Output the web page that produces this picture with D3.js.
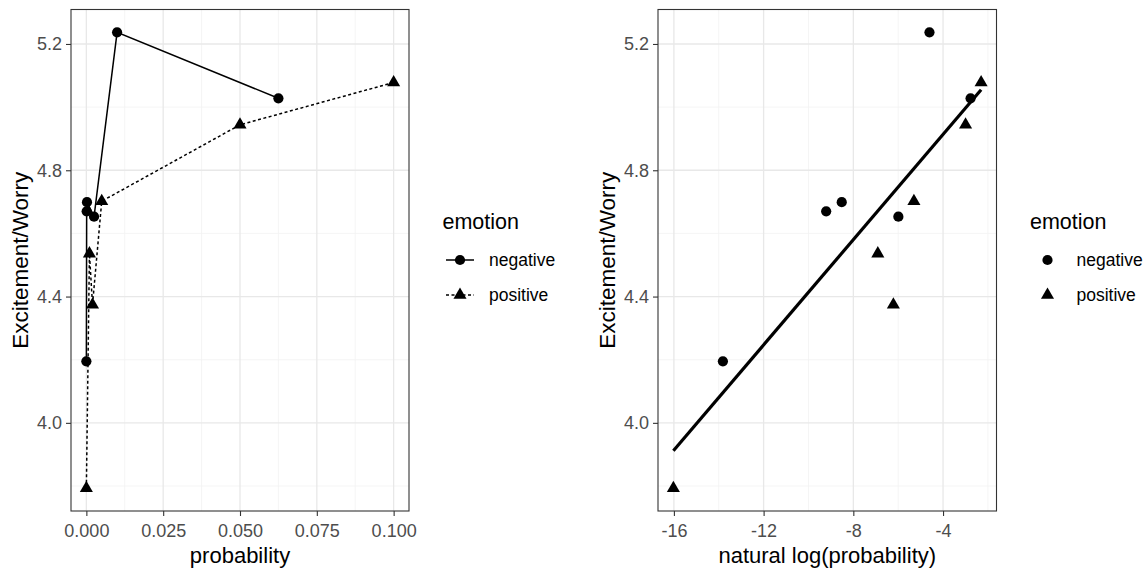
<!DOCTYPE html>
<html>
<head>
<meta charset="utf-8">
<script src="https://cdn.jsdelivr.net/npm/d3@7"></script>
<style>
body { margin: 0; background: #fff; }
text { font-family: "Liberation Sans", Arial, sans-serif; }
</style>
</head>
<body>
<svg id="chart" width="1148" height="570"></svg>
<script>
// values
const negProb = [0.000001, 0.0001, 0.0002, 0.0025, 0.01, 0.0625];
const negScore = [4.195, 4.67, 4.699, 4.653, 5.237, 5.028];
const posProb = [0.00000011, 0.001, 0.002, 0.005, 0.05, 0.1];
const posScore = [3.793, 4.536, 4.374, 4.702, 4.944, 5.078];
const emotions = ['negative', 'positive'];
const yTicks = [4.0, 4.4, 4.8, 5.2];
const yMinorTicks = [3.8, 4.2, 4.6, 5.0];
const xTicksLeft = [0, 0.025, 0.05, 0.075, 0.1];
const xTicksRight = [-16, -12, -8, -4];

const series = [
  { name: 'negative', shape: 'circle', dash: null,
    pts: negProb.map((p, i) => ({ p: p, lp: Math.log(p), y: negScore[i] })) },
  { name: 'positive', shape: 'triangle', dash: '3,2.5',
    pts: posProb.map((p, i) => ({ p: p, lp: Math.log(p), y: posScore[i] })) }
];
const allPts = series.flatMap(s => s.pts);

const svg = d3.select('#chart');
const pTop = 9.5, pBottom = 511;

function expand(ext) {
  const d = (ext[1] - ext[0]) * 0.05;
  return [ext[0] - d, ext[1] + d];
}

const y = d3.scaleLinear()
  .domain(expand(d3.extent(allPts, d => d.y)))
  .range([pBottom, pTop]);

const circleSym = d3.symbol().type(d3.symbolCircle).size(82);
const triSym = d3.symbol().type(d3.symbolTriangle).size(74);
function sym(shape) { return shape === 'circle' ? circleSym() : triSym(); }

function panel(left, right, xDomain, xTicks, fmt, xTitle) {
  const x = d3.scaleLinear().domain(expand(xDomain)).range([left, right]);
  const g = svg.append('g');

  // minor grid
  const step = xTicks[1] - xTicks[0];
  const xMinor = [];
  for (let v = xTicks[0] - step / 2; v <= xTicks[xTicks.length - 1] + step / 2 + 1e-9; v += step) xMinor.push(v);
  g.selectAll('.xm').data(xMinor.filter(v => x(v) > left && x(v) < right)).join('line')
    .attr('x1', d => x(d)).attr('x2', d => x(d)).attr('y1', pTop).attr('y2', pBottom)
    .attr('stroke', '#f3f3f3').attr('stroke-width', 0.8);
  g.selectAll('.ym').data(yMinorTicks).join('line')
    .attr('y1', d => y(d)).attr('y2', d => y(d)).attr('x1', left).attr('x2', right)
    .attr('stroke', '#f3f3f3').attr('stroke-width', 0.8);
  // major grid
  g.selectAll('.xg').data(xTicks).join('line')
    .attr('x1', d => x(d)).attr('x2', d => x(d)).attr('y1', pTop).attr('y2', pBottom)
    .attr('stroke', '#e8e8e8').attr('stroke-width', 1.3);
  g.selectAll('.yg').data(yTicks).join('line')
    .attr('y1', d => y(d)).attr('y2', d => y(d)).attr('x1', left).attr('x2', right)
    .attr('stroke', '#e8e8e8').attr('stroke-width', 1.3);

  // axes
  const ax = g.append('g').attr('transform', 'translate(0,' + pBottom + ')')
    .call(d3.axisBottom(x).tickValues(xTicks).tickFormat(fmt).tickSize(5).tickPadding(3).tickSizeOuter(0));
  const ay = g.append('g').attr('transform', 'translate(' + left + ',0)')
    .call(d3.axisLeft(y).tickValues(yTicks).tickFormat(d3.format('.1f')).tickSize(5).tickPadding(4).tickSizeOuter(0));
  [ax, ay].forEach(a => {
    a.select('.domain').remove();
    a.selectAll('line').attr('stroke', '#333').attr('stroke-width', 1.1);
    a.selectAll('text').attr('fill', '#4d4d4d').style('font-size', '18px')
      .style('font-family', '"Liberation Sans", Arial, sans-serif');
  });
  ax.selectAll('text').attr('dy', '0.98em');

  g.append('rect').attr('x', left).attr('y', pTop)
    .attr('width', right - left).attr('height', pBottom - pTop)
    .attr('fill', 'none').attr('stroke', '#333').attr('stroke-width', 1.1);

  g.append('text').attr('x', (left + right) / 2).attr('y', 563)
    .attr('text-anchor', 'middle').style('font-size', '22px').text(xTitle);
  g.append('text').attr('transform', 'translate(' + (left - 43) + ',' + ((pTop + pBottom) / 2) + ') rotate(-90)')
    .attr('text-anchor', 'middle').style('font-size', '22.5px').text('Excitement/Worry');

  return { g: g, x: x };
}

// left panel: raw probability
const L = panel(71, 409, [0, 0.1], xTicksLeft, d3.format('.3f'), 'probability');
series.forEach(s => {
  const pts = s.pts.slice().sort((a, b) => a.p - b.p);
  L.g.append('path').datum(pts)
    .attr('fill', 'none').attr('stroke', '#000').attr('stroke-width', 1.5)
    .attr('stroke-dasharray', s.dash)
    .attr('d', d3.line().x(d => L.x(d.p)).y(d => y(d.y)));
  L.g.selectAll(null).data(pts).join('path')
    .attr('transform', d => 'translate(' + L.x(d.p) + ',' + y(d.y) + ')')
    .attr('d', sym(s.shape)).attr('fill', '#000');
});

// right panel: log probability with linear fit
const R = panel(658, 996.5, d3.extent(allPts, d => d.lp), xTicksRight, d => String(d), 'natural log(probability)');
const mx = d3.mean(allPts, d => d.lp), my = d3.mean(allPts, d => d.y);
const slope = d3.sum(allPts, d => (d.lp - mx) * (d.y - my)) / d3.sum(allPts, d => (d.lp - mx) * (d.lp - mx));
const icpt = my - slope * mx;
const fitX = d3.extent(allPts, d => d.lp);
R.g.append('path').datum(fitX)
  .attr('fill', 'none').attr('stroke', '#000').attr('stroke-width', 3.2)
  .attr('d', d3.line().x(d => R.x(d)).y(d => y(icpt + slope * d)));
series.forEach(s => {
  R.g.selectAll(null).data(s.pts).join('path')
    .attr('transform', d => 'translate(' + R.x(d.lp) + ',' + y(d.y) + ')')
    .attr('d', sym(s.shape)).attr('fill', '#000');
});

// legends
function legend(x0, withLine) {
  const g = svg.append('g');
  g.append('text').attr('x', x0).attr('y', 229).style('font-size', '21.5px').text('emotion');
  series.forEach((s, i) => {
    const cy = 260 + i * 35;
    const cx = x0 + 17.5;
    if (withLine) {
      g.append('line').attr('x1', cx - 14).attr('x2', cx + 14).attr('y1', cy).attr('y2', cy)
        .attr('stroke', '#000').attr('stroke-width', 1.5).attr('stroke-dasharray', s.dash);
    }
    g.append('path').attr('transform', 'translate(' + cx + ',' + cy + ')')
      .attr('d', sym(s.shape)).attr('fill', '#000');
    g.append('text').attr('x', x0 + 46.5).attr('y', cy + 6).style('font-size', '17.5px').text(emotions[i]);
  });
}
legend(442.5, true);
legend(1030, false);
</script>
</body>
</html>
